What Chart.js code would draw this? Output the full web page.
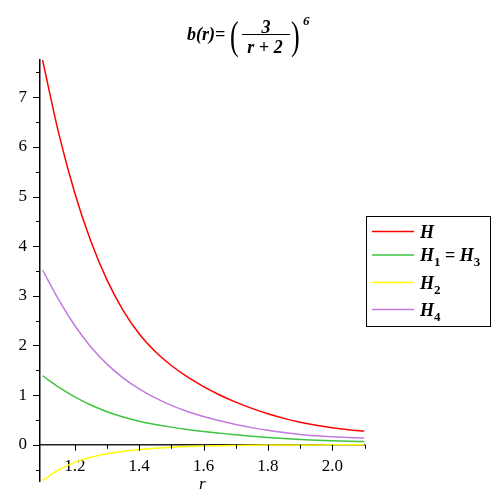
<!DOCTYPE html>
<html>
<head>
<meta charset="utf-8">
<script src="https://cdn.jsdelivr.net/npm/chart.js@4"></script>
<style>
html,body{margin:0;padding:0;background:#fff;}
#wrap{width:498px;height:498px;position:relative;}
</style>
</head>
<body>
<div id="wrap"><canvas id="c" width="498" height="498"></canvas></div>
<script>
const rValues = [1.10,1.15,1.20,1.25,1.30,1.35,1.40,1.45,1.50,1.55,1.60,1.65,1.70,1.75,1.80,1.85,1.90,1.95,2.00,2.05,2.10];
const seriesH  = [7.75,6.278,5.072,4.098,3.320,2.709,2.237,1.879,1.597,1.366,1.171,1.003,0.858,0.732,0.623,0.531,0.455,0.393,0.343,0.304,0.275];
const seriesH1 = [1.39,1.16,0.965,0.80,0.665,0.56,0.475,0.41,0.355,0.308,0.268,0.233,0.20,0.172,0.147,0.126,0.108,0.093,0.081,0.072,0.065];
const seriesH2 = [-0.72,-0.505,-0.355,-0.252,-0.180,-0.130,-0.094,-0.068,-0.049,-0.036,-0.026,-0.019,-0.014,-0.010,-0.007,-0.005,-0.004,-0.003,-0.002,-0.0015,-0.001];
const seriesH4 = [3.52,2.922,2.402,1.969,1.625,1.349,1.125,0.943,0.794,0.671,0.568,0.482,0.408,0.345,0.291,0.246,0.209,0.181,0.160,0.145,0.135];
const xTickLabels = [1.2,1.4,1.6,1.8,2.0];
const xMinorTicks = [1.2,1.3,1.4,1.5,1.6,1.7,1.8,1.9,2.0,2.1];
const yTickLabels = [0,1,2,3,4,5,6,7];
const yMinorTicks = [-0.5,0.5,1.5,2.5,3.5,4.5,5.5,6.5,7.5];

const pts = arr => arr.map((v,i)=>({x:rValues[i], y:v}));
const SERIF = '"Liberation Serif", "Times New Roman", serif';

const decor = {
  id:'decor',
  afterDraw(chart){
    const ctx = chart.ctx, xs = chart.scales.x, ys = chart.scales.y;
    const y0 = ys.getPixelForValue(0);
    const xl = xs.left;
    ctx.save();
    ctx.strokeStyle = '#000'; ctx.lineWidth = 1;
    xMinorTicks.forEach(v=>{
      const px = Math.round(xs.getPixelForValue(v))+0.5;
      const major = xTickLabels.some(t=>Math.abs(t-v)<1e-6);
      ctx.beginPath(); ctx.moveTo(px,y0); ctx.lineTo(px,y0+(major?6:4)); ctx.stroke();
    });
    yTickLabels.forEach(v=>{
      const py = Math.round(ys.getPixelForValue(v))+0.5;
      ctx.beginPath(); ctx.moveTo(xl,py); ctx.lineTo(xl-7,py); ctx.stroke();
    });
    yMinorTicks.forEach(v=>{
      const py = Math.round(ys.getPixelForValue(v))+0.5;
      ctx.beginPath(); ctx.moveTo(xl,py); ctx.lineTo(xl-4,py); ctx.stroke();
    });
    ctx.fillStyle = '#000';
    // axis label
    ctx.font = 'italic 17px ' + SERIF;
    ctx.textAlign = 'center'; ctx.textBaseline = 'alphabetic';
    ctx.fillText('r', (xs.left+xs.right)/2, 489);
    // title
    ctx.textAlign = 'left';
    ctx.font = 'bold italic 18px ' + SERIF;
    ctx.fillText('b(r)=', 187, 40);
    ctx.save();
    ctx.scale(1, 1.5);
    ctx.font = '26px ' + SERIF;
    ctx.fillText('(', 230, 49/1.5);
    ctx.fillText(')', 291, 49/1.5);
    ctx.restore();
    ctx.font = 'bold italic 18px ' + SERIF;
    ctx.textAlign = 'center';
    ctx.fillText('3', 266, 33);
    ctx.fillText('r + 2', 265, 53);
    ctx.fillRect(242, 34, 48, 1);
    ctx.textAlign = 'left';
    ctx.font = 'bold italic 13px ' + SERIF;
    ctx.fillText('6', 303, 25);
    // legend
    ctx.strokeStyle = '#000'; ctx.lineWidth = 1;
    ctx.strokeRect(366.5, 216.5, 124, 110);
    const items = chart.data.datasets;
    const rowY = [231.5, 255, 282.5, 309.5];
    items.forEach((ds,i)=>{
      ctx.strokeStyle = ds.borderColor; ctx.lineWidth = 1.6;
      ctx.beginPath(); ctx.moveTo(372, rowY[i]); ctx.lineTo(414, rowY[i]); ctx.stroke();
      let x = 420; const base = rowY[i]+6;
      ds.legendParts.forEach(p=>{
        ctx.font = (p.sub ? 'bold 13px ' : (p.plain ? 'bold 18px ' : 'bold italic 18px ')) + SERIF;
        ctx.fillStyle = '#000';
        const yy = p.sub ? base+5 : base;
        ctx.fillText(p.t, x, yy);
        x += ctx.measureText(p.t).width;
      });
    });
    ctx.restore();
  }
};

new Chart(document.getElementById('c'), {
  type:'line',
  data:{
    datasets:[
      {label:'H', data:pts(seriesH), borderColor:'#ff0000', legendParts:[{t:'H'}]},
      {label:'H1 = H3', data:pts(seriesH1), borderColor:'#3ec43e', legendParts:[{t:'H'},{t:'1',sub:true},{t:' = ',plain:true},{t:'H'},{t:'3',sub:true}]},
      {label:'H2', data:pts(seriesH2), borderColor:'#ffff00', legendParts:[{t:'H'},{t:'2',sub:true}]},
      {label:'H4', data:pts(seriesH4), borderColor:'#c07ae0', legendParts:[{t:'H'},{t:'4',sub:true}]}
    ].map(d=>Object.assign(d,{borderWidth:1.5, pointRadius:0, cubicInterpolationMode:'monotone', fill:false}))
  },
  options:{
    responsive:false, animation:false,
    layout:{padding:{left:0, right:133.5, top:60, bottom:17}},
    plugins:{legend:{display:false}, title:{display:false}, tooltip:{enabled:false}},
    scales:{
      x:{
        type:'linear', min:1.092, max:2.1, position:{y:0},
        grid:{display:false, drawTicks:false},
        border:{display:true, color:'#222', width:1.5},
        afterBuildTicks:s=>{ s.ticks = xTickLabels.map(v=>({value:v})); },
        afterFit:s=>{ s.height = 0; s.paddingLeft = 0; s.paddingRight = 0; },
        ticks:{color:'#000', font:{family:SERIF, size:17}, padding:12, maxRotation:0, callback:v=>v.toFixed(1)}
      },
      y:{
        type:'linear', min:-0.73, max:7.75, position:'left',
        grid:{display:false, drawTicks:false},
        border:{display:true, color:'#000', width:1.5},
        afterBuildTicks:s=>{ s.ticks = yTickLabels.map(v=>({value:v})); },
        afterFit:s=>{ s.width = 40; s.paddingTop = 0; s.paddingBottom = 0; },
        ticks:{color:'#000', font:{family:SERIF, size:17}, padding:13}
      }
    }
  },
  plugins:[decor]
});
</script>
</body>
</html>
